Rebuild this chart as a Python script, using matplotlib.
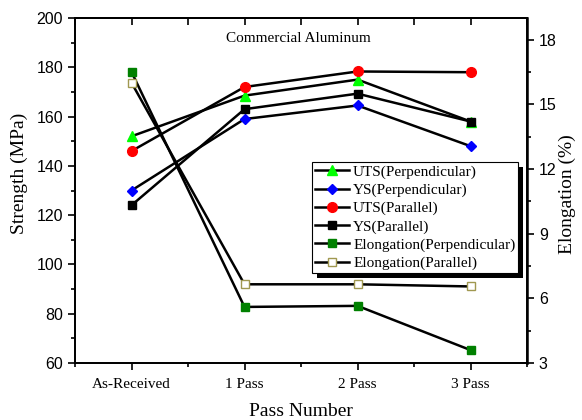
import matplotlib
matplotlib.use("Agg")
import matplotlib.pyplot as plt
from matplotlib.patches import Rectangle
from matplotlib.ticker import MultipleLocator

# ── Data ──────────────────────────────────────────────────────────────────────
passes       = ["As-Received", "1 Pass", "2 Pass", "3 Pass"]
uts_perp     = [152, 168.5, 175, 158]
ys_perp      = [130, 159, 164.5, 148]
uts_para     = [146, 172, 178.3, 178]
ys_para      = [124, 163, 169.3, 158]
elong_perp   = [16.5, 5.6, 5.65, 3.6]
elong_para   = [16.0, 6.65, 6.65, 6.55]

SERIF = "Liberation Serif"
SANS  = "Liberation Sans"
LW    = 1.8
MS    = 6

fig = plt.figure(figsize=(5.82, 4.2), dpi=100)
ax = fig.add_axes([75 / 582, 1 - 363 / 420, 452 / 582, 345 / 420])
ax2 = ax.twinx()

x = list(range(len(passes)))

h1, = ax.plot(x, uts_perp, "-^", color="black", lw=LW, ms=MS + 1,
              mfc="#00ff00", mec="#00ff00", label="UTS(Perpendicular)")
h2, = ax.plot(x, ys_perp, "-D", color="black", lw=LW, ms=MS - 0.5,
              mfc="#0000ff", mec="#0000ff", label="YS(Perpendicular)")
h3, = ax.plot(x, uts_para, "-o", color="black", lw=LW, ms=MS + 1,
              mfc="#ff0000", mec="#ff0000", label="UTS(Parallel)")
h4, = ax.plot(x, ys_para, "-s", color="black", lw=LW, ms=MS,
              mfc="black", mec="black", label="YS(Parallel)")
h5, = ax2.plot(x, elong_perp, "-s", color="black", lw=LW, ms=MS - 0.5,
               mfc="#008000", mec="#008000", label="Elongation(Perpendicular)")
h6, = ax2.plot(x, elong_para, "-s", color="black", lw=LW, ms=MS - 0.5,
               mfc="white", mec="#a09850", mew=1.0, label="Elongation(Parallel)")

# ── Axes setup ────────────────────────────────────────────────────────────────
ax.set_xlim(-0.5, 3.5)
ax.set_ylim(60, 200)
ax2.set_ylim(3, 19)

ax.set_xticks(x)
ax.set_xticklabels(passes, fontfamily=SERIF, fontsize=11)
ax.xaxis.set_minor_locator(MultipleLocator(0.5))
ax.yaxis.set_major_locator(MultipleLocator(20))
ax.yaxis.set_minor_locator(MultipleLocator(10))
ax2.yaxis.set_minor_locator(MultipleLocator(1.5))
ax2.set_yticks([3, 6, 9, 12, 15, 18])

ax.tick_params(axis="both", which="major", direction="out", length=5, width=1.2,
               labelsize=11.5)
ax.tick_params(axis="both", which="minor", direction="out", length=3, width=1.2)
ax.tick_params(axis="x", which="major", labelsize=11, pad=6)
ax2.tick_params(axis="y", which="major", direction="out", length=5, width=1.2,
                labelsize=11.5)
ax2.tick_params(axis="y", which="minor", direction="out", length=3, width=1.2)

# top mirror ticks point inward
top = ax.secondary_xaxis("top")
top.set_xticks(x)
top.xaxis.set_minor_locator(MultipleLocator(0.5))
top.tick_params(which="major", direction="in", length=5, width=1.2, labeltop=False)
top.tick_params(which="minor", direction="in", length=5, width=1.2)
top.spines["top"].set_linewidth(1.3)

for lab in ax.get_yticklabels() + ax2.get_yticklabels():
    lab.set_fontfamily(SANS)

for a in (ax, ax2):
    for sp in a.spines.values():
        sp.set_linewidth(1.3)
ax2.spines["right"].set_linewidth(1.8)

ax.set_xlabel("Pass Number", fontfamily=SERIF, fontsize=14)
ax.xaxis.set_label_coords(0.5, -0.115)
ax.set_ylabel("Strength (MPa)", fontfamily=SERIF, fontsize=14)
ax.yaxis.set_label_coords(-0.105, 0.55)
ax2.set_ylabel("Elongation (%)", fontfamily=SERIF, fontsize=14)
ax2.yaxis.set_label_coords(1.07, 0.49)

ax.text(0.495, 0.942, "Commercial Aluminum", transform=ax.transAxes,
        ha="center", va="center", fontfamily=SERIF, fontsize=11)

# ── Legend with hard black shadow ─────────────────────────────────────────────
leg = ax2.legend(handles=[h1, h2, h3, h4, h5, h6], loc="upper left",
                 bbox_to_anchor=(0.524, 0.583), prop={"family": SERIF, "size": 11},
                 frameon=True, fancybox=False, edgecolor="black", framealpha=1,
                 borderpad=0.2, labelspacing=0.29, handlelength=2.2,
                 handletextpad=0.3, borderaxespad=0)
leg.get_frame().set_linewidth(0.8)
leg.set_zorder(10)

fig.canvas.draw()
bb = leg.get_window_extent()
shadow = Rectangle((bb.x0 + 5, bb.y0 - 5), bb.width, bb.height,
                   transform=None, facecolor="black", edgecolor="none",
                   zorder=9, clip_on=False)
ax2.add_artist(shadow)

fig.savefig("out.png", dpi=100)
